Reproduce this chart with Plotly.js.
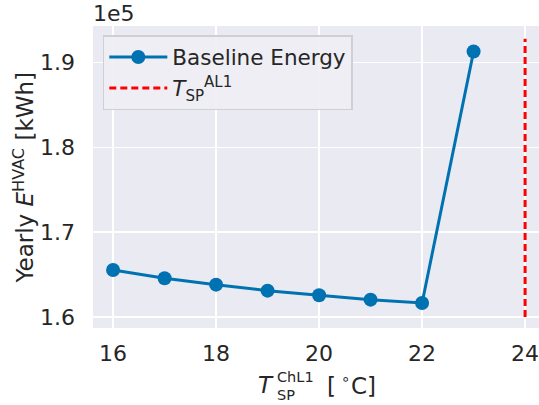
<!DOCTYPE html>
<html>
<head>
<meta charset="utf-8">
<script src="https://cdn.plot.ly/plotly-3.0.1.min.js"></script>
<style>html,body{margin:0;padding:0;background:#fff;}#chart{width:539px;height:405px;}</style>
</head>
<body>
<div id="chart"></div>
<script>
const setpoints = [16, 17, 18, 19, 20, 21, 22, 23];
const energy = [165540, 164560, 163810, 163100, 162560, 162040, 161650, 191290];
const alarmSetpoint = [24, 24];
const alarmSpan = [160000, 192800];
const yTickVals = [160000, 170000, 180000, 190000];
const yTickText = ["1.6", "1.7", "1.8", "1.9"];
const xTickVals = [16, 18, 20, 22, 24];

const FAM = "DejaVu Sans, sans-serif";
const INK = "#262626";
// plot area in pixels, used only to place the title pieces
const PL = 93, PR = 539, PT = 26, PB = 328;
const px = v => (v - PL) / (PR - PL);
const py = v => (PB - v) / (PB - PT);

const traces = [
  {
    x: setpoints, y: energy, type: "scatter", mode: "lines+markers",
    name: "Baseline Energy",
    line: {color: "#0072B2", width: 3},
    marker: {color: "#0072B2", size: 14}
  },
  {
    x: alarmSetpoint, y: alarmSpan, type: "scatter", mode: "lines",
    name: "<i>T</i><sub>SP</sub><sup>AL1</sup>",
    line: {color: "#ff0000", width: 3, dash: "7px,4px"}
  }
];

function ann(text, x, y, size, extra) {
  return Object.assign({text: text, xref: "paper", yref: "paper", x: px(x), y: py(y),
    xanchor: "left", yanchor: "middle", showarrow: false, borderpad: 0,
    font: {family: FAM, size: size, color: INK}}, extra || {});
}

const layout = {
  width: 539, height: 405,
  margin: {l: PL, r: 539 - PR, t: PT, b: 405 - PB},
  paper_bgcolor: "#ffffff",
  plot_bgcolor: "#EAEAF2",
  font: {family: FAM, size: 22, color: INK},
  showlegend: true,
  legend: {
    x: 0.022, y: 0.97, xanchor: "left", yanchor: "top",
    bgcolor: "rgba(238,238,244,0.9)", bordercolor: "#CFCFD4", borderwidth: 1.5,
    font: {family: FAM, size: 21.5, color: INK},
    itemwidth: 58
  },
  xaxis: {
    range: [15.61, 24.27],
    tickvals: xTickVals,
    showgrid: true, gridcolor: "#ffffff", gridwidth: 1.6,
    zeroline: false, showline: false, ticks: "",
    ticklabelstandoff: 10,
    ticklabeloverflow: "allow",
    tickfont: {family: FAM, size: 22, color: INK}
  },
  yaxis: {
    range: [158700, 194300],
    tickvals: yTickVals, ticktext: yTickText,
    showgrid: true, gridcolor: "#ffffff", gridwidth: 1.6,
    zeroline: false, showline: false, ticks: "",
    ticklabelstandoff: 17,
    tickfont: {family: FAM, size: 22, color: INK}
  },
  annotations: [
    ann("1e5", 92, 13.5, 22),
    // x-axis title: T with stacked SP / ChL1, then [°C]
    ann("<i>T</i>", 257, 385, 23),
    ann("ChL1", 276, 377, 14.5),
    ann("SP", 276, 394.5, 14.5),
    ann("[", 326, 386, 23),
    ann("∘", 340, 379, 15),
    ann("C]", 350, 386, 23),
    // y-axis title
    ann("Yearly <i>E</i><sup>HVAC</sup> [kWh]", 23, 177.5, 23, {xanchor: "center", textangle: -90})
  ]
};

Plotly.newPlot("chart", traces, layout, {displayModeBar: false, staticPlot: true});
</script>
</body>
</html>
